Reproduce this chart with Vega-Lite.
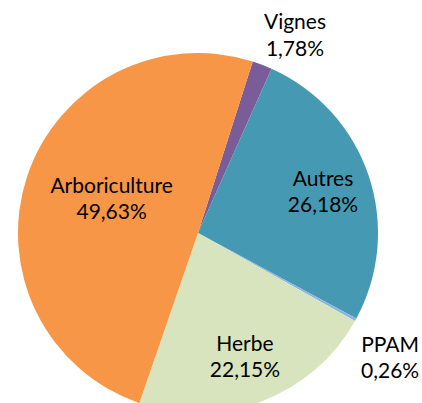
{
  "$schema": "https://vega.github.io/schema/vega-lite/v6.json",
  "width": 396,
  "height": 340,
  "autosize": "none",
  "padding": {"left": 0, "top": 63, "right": 26, "bottom": 0},
  "background": "white",
  "config": {"view": {"stroke": null}},
  "data": {"values": [
    {"cat": "Vignes", "value": 1.78, "ord": 1},
    {"cat": "Autres", "value": 26.18, "ord": 2},
    {"cat": "PPAM", "value": 0.26, "ord": 3},
    {"cat": "Herbe", "value": 22.15, "ord": 4},
    {"cat": "Arboriculture", "value": 49.63, "ord": 5}
  ]},
  "transform": [
    {"calculate": "datum.cat + '\\n' + replace(format(datum.value, '.2f'), '.', ',') + '%'", "as": "label"}
  ],
  "encoding": {
    "theta": {"field": "value", "type": "quantitative", "stack": true, "scale": {"range": [0.309, 6.592]}},
    "order": {"field": "ord", "type": "quantitative", "sort": "ascending"}
  },
  "layer": [
    {
      "mark": {"type": "arc", "outerRadius": 180},
      "encoding": {
        "color": {"field": "cat", "type": "nominal", "legend": null,
          "scale": {"domain": ["Vignes", "Autres", "PPAM", "Herbe", "Arboriculture"],
                    "range": ["#7A5C98", "#4599B2", "#8DB4E2", "#D7E4BD", "#F79646"]}}
      }
    },
    {
      "mark": {"type": "text", "radius": 132, "font": "Lato", "fontSize": 21, "lineBreak": "\n", "lineHeight": 26, "align": "center", "baseline": "middle", "color": "#000000", "dy": -11},
      "encoding": {"text": {"condition": {"test": "datum.cat === 'Autres' || datum.cat === 'Herbe'", "field": "label"}, "value": ""}}
    },
    {
      "mark": {"type": "text", "radius": 91, "font": "Lato", "fontSize": 21, "lineBreak": "\n", "lineHeight": 26, "align": "center", "baseline": "middle", "color": "#000000", "dy": -17},
      "encoding": {"text": {"condition": {"test": "datum.cat === 'Arboriculture'", "field": "label"}, "value": ""}}
    },
    {
      "mark": {"type": "text", "radius": 210, "font": "Lato", "fontSize": 21, "lineBreak": "\n", "lineHeight": 27, "align": "center", "baseline": "middle", "color": "#000000", "dx": 22, "dy": -14},
      "encoding": {"text": {"condition": {"test": "datum.cat === 'Vignes'", "field": "label"}, "value": ""}}
    },
    {
      "mark": {"type": "text", "radius": 225, "font": "Lato", "fontSize": 21, "lineBreak": "\n", "lineHeight": 26, "align": "center", "baseline": "middle", "color": "#000000", "dx": -5, "dy": 5},
      "encoding": {"text": {"condition": {"test": "datum.cat === 'PPAM'", "field": "label"}, "value": ""}}
    }
  ]
}
